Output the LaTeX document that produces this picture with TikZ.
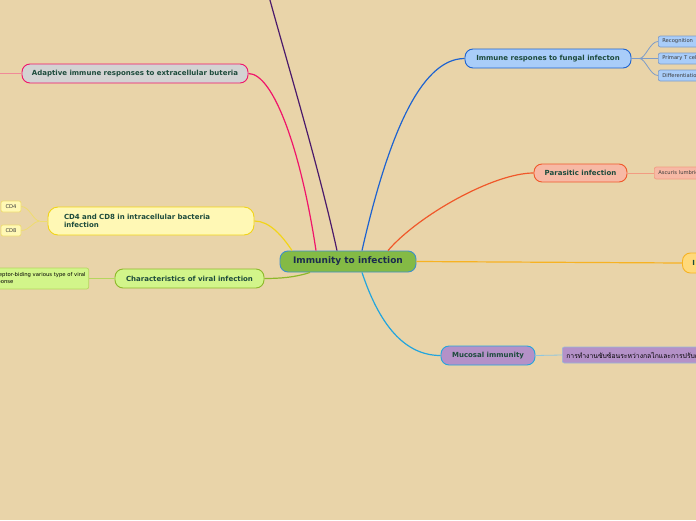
\documentclass[tikz,border=0pt]{standalone}
\usepackage{fontspec}
\setmainfont{DejaVu Sans}
\newfontfamily\thaifont[Script=Thai]{Loma}
\definecolor{bg}{HTML}{E9D4A9}
\definecolor{tmain}{HTML}{1B2B4E}
\definecolor{tgreen}{HTML}{1D4B3C}
\definecolor{tsmall}{HTML}{3A3A3A}
\definecolor{cfill}{HTML}{84BA45}
\definecolor{cborder}{HTML}{3E8FCB}
\definecolor{fungfill}{HTML}{A9CDF9}
\definecolor{fungline}{HTML}{1E63D0}
\definecolor{fungsub}{HTML}{7E9CC8}
\definecolor{parfill}{HTML}{F7B9A5}
\definecolor{parline}{HTML}{F0582A}
\definecolor{parsub}{HTML}{F29C82}
\definecolor{orfill}{HTML}{FFD97A}
\definecolor{orline}{HTML}{F7B222}
\definecolor{mucfill}{HTML}{B491C8}
\definecolor{mucline}{HTML}{23A5DD}
\definecolor{mucsub}{HTML}{8FC6DF}
\definecolor{adfill}{HTML}{D3D3D3}
\definecolor{adline}{HTML}{F0146A}
\definecolor{adsub}{HTML}{F08A98}
\definecolor{cdfill}{HTML}{FFF8B5}
\definecolor{cdline}{HTML}{F2D418}
\definecolor{cdsub}{HTML}{EEDC70}
\definecolor{vifill}{HTML}{D2F58A}
\definecolor{viline}{HTML}{8DB82A}
\definecolor{visub}{HTML}{B5D65E}
\definecolor{purp}{HTML}{4B1A6B}
\tikzset{
  mainnode/.style={draw, rounded corners=8pt, line width=0.9pt, inner sep=0pt,
    text=tgreen, font=\bfseries\fontsize{7}{8.6}\selectfont},
  subnode/.style={draw, rounded corners=2pt, line width=0.7pt, inner sep=0pt,
    text=tsmall, font=\fontsize{5.2}{6}\selectfont},
  mainline/.style={line width=1.2pt},
  subline/.style={line width=0.8pt},
}
\begin{document}
\begin{tikzpicture}[x=1pt,y=-1pt]
\useasboundingbox (0,0) rectangle (696,520);
\fill[bg] (0,0) rectangle (696,520);
\clip (0,0) rectangle (696,520);

% nodes
\node[mainnode, fill=cfill, draw=cborder, text=tmain, font=\bfseries\fontsize{9}{11}\selectfont,
  minimum width=136pt, minimum height=21pt] (center) at (348,261.5) {Immunity to infection};

\node[mainnode, fill=fungfill, draw=fungline, minimum width=166pt, minimum height=19pt]
  (fung) at (548,58.5) {Immune respones to fungal infecton};
\node[subnode, fill=fungfill, draw=fungsub, anchor=west, minimum height=11pt,
  text width=70pt, align=left, inner xsep=4pt] (rec) at (658,41.5) {Recognition};
\node[subnode, fill=fungfill, draw=fungsub, anchor=west, minimum height=11pt,
  text width=70pt, align=left, inner xsep=4pt] (prim) at (658,58.5) {Primary T cell};
\node[subnode, fill=fungfill, draw=fungsub, anchor=west, minimum height=11pt,
  text width=70pt, align=left, inner xsep=4pt] (diff) at (658,75.5) {Differentiation};

\node[mainnode, fill=parfill, draw=parline, minimum width=93pt, minimum height=18pt]
  (par) at (580.5,173) {Parasitic infection};
\node[subnode, fill=parfill, draw=parsub, anchor=west, minimum height=12pt,
  text width=70pt, align=left, inner xsep=4pt] (asc) at (654,173) {Ascuris lumbricoides};

\node[mainnode, fill=orfill, draw=orline, anchor=west, minimum height=20pt,
  text width=80pt, align=left, inner xsep=10pt] (orn) at (682,263) {I};

\node[mainnode, fill=mucfill, draw=mucline, minimum width=94pt, minimum height=19pt]
  (muc) at (488,355.5) {Mucosal immunity};
\node[subnode, fill=mucfill, draw=mucsub!70!mucfill, anchor=west, minimum height=16pt,
  text width=200pt, align=left, inner xsep=4pt, text=black,
  font=\thaifont\fontsize{6.8}{8}\selectfont] (thai) at (562,355)
  {การทำงานซับซ้อนระหว่างกลไกและการปรับตัว};

\node[mainnode, fill=adfill, draw=adline, minimum width=226pt, minimum height=19pt]
  (adapt) at (135,73.5) {Adaptive immune responses to extracellular buteria};
\coordinate (adleft) at (0,73.5);

\node[mainnode, fill=cdfill, draw=cdline, minimum width=206pt, minimum height=28pt,
  rounded corners=10pt, text width=174pt, align=left, inner xsep=16pt]
  (cd) at (151,221) {CD4 and CD8 in intracellular bacteria\\infection};
\node[subnode, fill=cdfill, draw=cdsub, minimum width=20pt, minimum height=11pt]
  (cdfour) at (11,206.5) {CD4};
\node[subnode, fill=cdfill, draw=cdsub, minimum width=20pt, minimum height=11pt]
  (cdeight) at (11,230.5) {CD8};

\node[mainnode, fill=vifill, draw=viline, minimum width=149pt, minimum height=19pt]
  (vir) at (189.5,278.5) {Characteristics of viral infection};
\node[subnode, fill=vifill, draw=visub, anchor=east, minimum height=21pt,
  align=left, inner xsep=3pt, text=black,
  font=\fontsize{5.3}{7.5}\selectfont] (rcp) at (89,278.5)
  {Receptor-biding various type of viral\\response};

\coordinate (purpend) at (262,-30);

% main connectors
\draw[mainline, fungline] ([xshift=14pt]center.north) .. controls +(25,-110) and +(-45,0) .. (fung.west);
\draw[mainline, parline] ([xshift=40pt]center.north) .. controls +(30,-35) and +(-40,0) .. (par.west);
\draw[mainline, orline] (center.east) -- (orn.west);
\draw[mainline, mucline] ([xshift=14pt]center.south) .. controls +(15,45) and +(-40,0) .. (muc.west);
\draw[mainline, adline] ([xshift=-32pt]center.north) .. controls +(-15,-100) and +(25,0) .. (adapt.east);
\draw[mainline, purp] ([xshift=-11pt]center.north) .. controls +(-22,-100) and +(15,60) .. (purpend);
\draw[mainline, cdline] ([xshift=-56pt]center.north) .. controls +(-10,-15) and +(15,0) .. (cd.east);
\draw[mainline, viline] ([xshift=-38pt]center.south) .. controls +(-15,5) and +(15,0) .. (vir.east);

% sub connectors
\draw[subline, fungsub] (fung.east) -- ++(8,0) coordinate (fb);
\draw[subline, fungsub] (fb) .. controls +(6,0) and +(-8,0) .. (rec.west);
\draw[subline, fungsub] (fb) -- (prim.west);
\draw[subline, fungsub] (fb) .. controls +(6,0) and +(-8,0) .. (diff.west);
\draw[subline, parsub] (par.east) -- (asc.west);
\draw[subline, mucsub] (muc.east) -- (thai.west);
\draw[subline, adsub] (adapt.west) -- (adleft);
\draw[subline, cdsub] (cd.west) -- ++(-8,0) coordinate (cb);
\draw[subline, cdsub] (cb) .. controls +(-6,0) and +(8,0) .. (cdfour.east);
\draw[subline, cdsub] (cb) .. controls +(-6,0) and +(8,0) .. (cdeight.east);
\draw[subline, visub] (vir.west) -- (rcp.east);
\end{tikzpicture}
\end{document}
